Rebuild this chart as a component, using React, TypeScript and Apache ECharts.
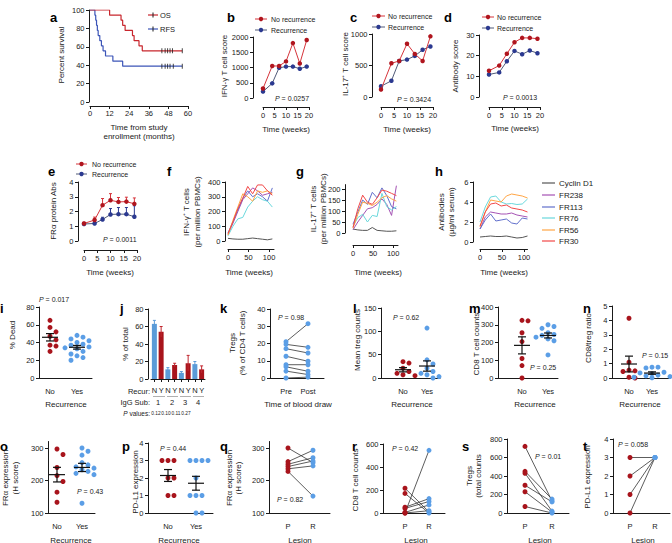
import React, { useEffect, useRef } from "react";
import * as echarts from "echarts";

const FONT = "'Liberation Sans', Arial, Helvetica, sans-serif";
const INK = "#1a1a1a";
const RED = "#a8141c";
const LBLUE = "#5b9ee6";
const OS_RED = "#c8262d";
const RFS_BLUE = "#3c55b8";
const NO_DOT = "#b0151e";
const NO_LINE = "#d6343b";
const REC_DOT = "#2b3990";
const REC_LINE = "#505a78";
const ABCOL = ["#555555", "#a553b4", "#6270cc", "#6ad8dc", "#ffa545", "#f24848"];
const ABNAMES = ["Cyclin D1", "FR238", "FR113", "FR76", "FR56", "FR30"];

// ---------- a: Kaplan-Meier ----------
const osTime = [0, 12, 19, 20, 21.5, 26, 27, 30, 32, 56.5];
const osSurv = [100, 94.4, 88.9, 83.3, 77.8, 72.2, 66.7, 61.1, 55.6, 55.6];
const osCensor = [44, 46, 47.5, 49, 50.5, 56.5];
const rfsTime = [0, 3, 3.5, 4, 4.5, 5, 6, 7, 8, 9.5, 14, 20, 56.5];
const rfsSurv = [100, 94.4, 88.9, 83.3, 77.8, 72.2, 66.7, 61.1, 55.6, 50, 44.4, 38.9, 38.9];
const rfsCensor = [44, 46, 47.5, 49, 51, 56.5];

// ---------- b-e: weekly scores ----------
const weeks = [0, 4, 7, 10, 13, 16, 19];
const ifnNo = [310, 1050, 1050, 1200, 1800, 1130, 1900];
const ifnRec = [210, 480, 990, 1030, 1030, 960, 1030];
const il17No = [118, 535, 572, 845, 684, 572, 963];
const il17Rec = [171, 257, 572, 594, 652, 749, 802];
const abNo = [12.7, 15.2, 20.9, 26.5, 28.6, 28.6, 28.2];
const abRec = [10.9, 11.9, 17.3, 22.3, 20.7, 22.5, 21.2];
const fraNo = [1.19, 1.42, 2.43, 2.76, 2.65, 2.67, 2.52];
const fraNoErr = [0.08, 0.2, 0.45, 0.45, 0.3, 0.3, 0.4];
const fraRec = [1.15, 1.19, 1.46, 1.8, 1.82, 1.82, 1.64];
const fraRecErr = [0.08, 0.1, 0.15, 0.4, 0.45, 0.45, 0.75];

// ---------- f-h: per-peptide curves (Cyclin D1, FR238, FR113, FR76, FR56, FR30) ----------
const tWeeks = [0, 12, 24, 36, 48, 60, 72, 84, 96, 108];
const ifnCells = [
  [18, 14, 12, 12, 16, 20, 16, 12, 8, 14],
  [45, 120, 200, 280, 320, 360, 340, 310, 320, 330],
  [55, 130, 210, 290, 340, 300, 320, 300, 270, 360],
  [35, 100, 150, 160, 230, 270, 300, 280, 270, 230],
  [40, 140, 230, 320, 300, 270, 340, 330, 340, 320],
  [50, 130, 220, 290, 370, 320, 380, 380, 340, 310],
];
const il17Cells = [
  [18, 14, 12, 12, 25, 12, 10, 8, 8, 10],
  [15, 50, 80, 110, 115, 130, 155, 130, 80, 215],
  [40, 95, 150, 130, 185, 160, 205, 170, 120, 110],
  [30, 70, 85, 50, 80, 75, 180, 120, 105, 120],
  [22, 85, 140, 135, 125, 140, 160, 170, 155, 145],
  [25, 110, 172, 140, 130, 160, 195, 190, 180, 170],
];
const antibodies = [
  [0.5, 0.55, 0.6, 0.55, 0.55, 0.6, 0.5, 0.4, 0.45, 0.6],
  [1.3, 2.5, 3.0, 2.9, 2.8, 2.8, 2.9, 2.7, 2.6, 2.5],
  [1.3, 2.2, 2.8, 2.1, 2.2, 2.3, 1.9, 1.8, 2.4, 2.3],
  [2.0, 3.5, 4.5, 4.6, 4.0, 3.8, 3.85, 3.75, 3.8, 4.3],
  [1.5, 3.0, 4.2, 4.1, 4.0, 4.6, 4.8, 4.7, 4.6, 4.4],
  [1.6, 3.0, 3.8, 3.9, 3.6, 3.7, 3.4, 3.3, 3.2, 3.0],
];

// ---------- i-t ----------
const iNo = [65, 57, 52, 47, 43, 37, 36, 30];
const iYes = [48, 46, 44, 42, 40, 38, 37, 35, 34, 33, 32, 30, 27, 25, 23, 20];
const jCats = ["N", "Y", "N", "Y", "N", "Y", "N", "Y"];
const jSub = ["1", "2", "3", "4"];
const jPvals = ["0.12", "0.10", "0.11", "0.27"];
const jNo = [63, 11, 7, 17];
const jNoErr = [4, 2, 1.5, 3];
const jYes = [54, 16, 18, 11];
const jYesErr = [6, 2, 9, 4];
const kPre = [21, 19.5, 17, 12.6, 7.7, 6.5, 4, 0];
const kPost = [31.5, 17.8, 14.5, 9.7, 7.7, 3.9, 2, 0.5];
const lNo = [35, 32, 21, 14, 10, 7, 5];
const lYes = [107, 39, 30, 21, 14, 10, 7, 3, 0];
const mNo = [325, 322, 255, 205, 110, 70, 0];
const mYes = [300, 290, 280, 255, 245, 240, 235, 230, 220, 210, 130];
const nNo = [4.15, 1.1, 0.55, 0.5, 0.45, 0.05, 0];
const nYes = [0.75, 0.75, 0.7, 0.4, 0.35, 0.3, 0.2, 0.15, 0.1, 0.05, 0.02];
const oNo = [297, 280, 240, 215, 197, 164, 133];
const oYes = [300, 290, 278, 255, 248, 242, 238, 233, 228, 222, 218, 130];
const pNo = [3, 3, 3, 2, 2, 1, 1];
const pYes = [3, 3, 3, 3, 2, 1, 1, 1, 0, 0];
const qP = [300, 258, 250, 243, 236, 228];
const qR = [255, 293, 270, 260, 245, 152];
const rP = [215, 170, 50, 40, 5, 0, 0];
const rR = [10, 0, 125, 100, 70, 545, 20];
const sP = [720, 450, 430, 300, 230, 70];
const sR = [130, 150, 20, 120, 10, 0];
const tP = [3, 2, 1, 0];
const tR = [3, 3, 3, 3];

function buildOption() {
  const grid: any[] = [];
  const xAxis: any[] = [];
  const yAxis: any[] = [];
  const series: any[] = [];
  const g: any[] = [];

  const T = (x: number, y: number, text: string, o: any = {}) => {
    const style: any = {
      text,
      fill: o.color ?? INK,
      fontFamily: FONT,
      fontSize: o.size ?? 8,
      fontWeight: o.bold ? "bold" : "normal",
      fontStyle: o.italic ? "italic" : "normal",
      align: o.align ?? "center",
      verticalAlign: o.va ?? "middle",
    };
    if (o.rich) style.rich = o.rich;
    g.push({ type: "text", x, y, rotation: o.rot ?? 0, silent: true, z: 100, style });
  };

  const lab = (m: number) => ({ show: true, fontSize: 7.5, color: INK, fontFamily: FONT, margin: m });
  const panel = (c: any) => {
    const i = grid.length;
    grid.push({ left: c.l, top: c.t, width: c.w, height: c.h });
    const xa: any = {
      gridIndex: i,
      position: "bottom",
      type: c.xData ? "category" : "value",
      offset: c.xOff ?? 0,
      axisLine: { show: true, onZero: false, lineStyle: { color: INK, width: 1 } },
      axisTick: { show: c.xTick !== false, length: 3, alignWithLabel: true, lineStyle: { color: INK, width: 1 } },
      axisLabel: lab(c.xMargin ?? 3),
      splitLine: { show: false },
    };
    if (c.xData) {
      xa.data = c.xData;
      xa.axisLabel.interval = 0;
      xa.axisTick.interval = 0;
    } else {
      xa.min = c.xmin;
      xa.max = c.xmax;
    }
    if (c.xint) xa.interval = c.xint;
    if (c.xCustom) {
      xa.axisLabel.customValues = c.xCustom;
      xa.axisTick.customValues = c.xCustom;
    }
    if (c.xLabels) {
      const cv = c.xCustom;
      xa.axisLabel.formatter = (v: number) => {
        const k = cv.findIndex((u: number) => Math.abs(u - v) < 1e-6);
        return k >= 0 ? c.xLabels[k] : "";
      };
    }
    xAxis.push(xa);
    const ya: any = {
      gridIndex: i,
      position: "left",
      type: "value",
      min: c.ymin,
      max: c.ymax,
      offset: c.yOff ?? 0,
      axisLine: { show: true, onZero: false, lineStyle: { color: INK, width: 1 } },
      axisTick: { show: true, length: 3, lineStyle: { color: INK, width: 1 } },
      axisLabel: { show: false },
      splitLine: { show: false },
    };
    let yTicks: number[] = [];
    if (c.yint) {
      ya.interval = c.yint;
      for (let v = c.ymin; v <= c.ymax + 1e-9; v += c.yint) yTicks.push(Math.round(v * 1000) / 1000);
    }
    if (c.yCustom) {
      ya.axisTick.customValues = c.yCustom;
      yTicks = c.yCustom;
    }
    yAxis.push(ya);
    // y tick labels placed at the axis' own tick positions
    const ax = c.l - (c.yOff ?? 0) - 4.5;
    yTicks.forEach((v) => {
      const py = c.t + c.h * (1 - (v - c.ymin) / (c.ymax - c.ymin));
      T(ax, py, String(v), { size: 7.5, align: "right" });
    });
    return { ...c, i };
  };

  const PV = (x: number, y: number, v: string, size = 7) =>
    T(x, y, `{i|P} = ${v}`, {
      size,
      align: "left",
      rich: { i: { fontStyle: "italic", fontSize: size, fontFamily: FONT, fill: INK } },
    });
  const YT = (x: number, y: number, s: string) => T(x, y, s, { rot: Math.PI / 2, size: 8 });
  const LN = (x1: number, y1: number, x2: number, y2: number, stroke: string, w = 1) =>
    g.push({ type: "line", silent: true, z: 100, shape: { x1, y1, x2, y2 }, style: { stroke, lineWidth: w } });

  const line = (p: any, xs: number[], ys: number[], dot: string, lc: string, z = 3) =>
    series.push({
      type: "line",
      xAxisIndex: p.i,
      yAxisIndex: p.i,
      data: xs.map((t, k) => [t, ys[k]]),
      symbol: "circle",
      symbolSize: 4.5,
      itemStyle: { color: dot },
      lineStyle: { color: lc, width: 1 },
      z,
      silent: true,
    });

  const upErr = (p: any, xs: number[], ys: number[], err: number[], color: string) =>
    series.push({
      type: "custom",
      xAxisIndex: p.i,
      yAxisIndex: p.i,
      silent: true,
      z: 2,
      data: xs.map((t, k) => [t, ys[k], ys[k] + err[k]]),
      renderItem: (_: any, api: any) => {
        const a = api.coord([api.value(0), api.value(1)]);
        const b = api.coord([api.value(0), api.value(2)]);
        return {
          type: "group",
          children: [
            { type: "line", shape: { x1: a[0], y1: a[1], x2: b[0], y2: b[1] }, style: { stroke: color, lineWidth: 1 } },
            { type: "line", shape: { x1: b[0] - 1.5, y1: b[1], x2: b[0] + 1.5, y2: b[1] }, style: { stroke: color, lineWidth: 1 } },
          ],
        };
      },
    });

  const swarm = (vals: number[], cx: number, p: any, d = 6) => {
    const placed: number[][] = [];
    return vals.map((v) => {
      const py = ((v - p.ymin) / (p.ymax - p.ymin)) * p.h;
      const offs = [0, d, -d, 2 * d, -2 * d, 3 * d, -3 * d];
      let ox = 0;
      for (const o of offs) {
        if (placed.every(([x, y]) => Math.hypot(x - o, y - py) >= d * 0.98)) {
          ox = o;
          break;
        }
      }
      placed.push([ox, py]);
      return [cx + ox, v];
    });
  };

  const dots = (p: any, data: number[][], color: string) =>
    series.push({
      type: "scatter",
      xAxisIndex: p.i,
      yAxisIndex: p.i,
      data,
      symbolSize: 5,
      itemStyle: { color, opacity: 1 },
      silent: true,
      z: 3,
    });

  const meanSem = (p: any, cx: number, vals: number[], half = 8) => {
    const n = vals.length;
    const m = vals.reduce((a, b) => a + b, 0) / n;
    const sd = Math.sqrt(vals.reduce((a, b) => a + (b - m) * (b - m), 0) / (n - 1));
    const se = sd / Math.sqrt(n);
    series.push({
      type: "custom",
      xAxisIndex: p.i,
      yAxisIndex: p.i,
      silent: true,
      z: 5,
      data: [[cx, m, m - se, m + se]],
      renderItem: (_: any, api: any) => {
        const c = api.coord([api.value(0), api.value(1)]);
        const lo = api.coord([api.value(0), api.value(2)]);
        const hi = api.coord([api.value(0), api.value(3)]);
        const st = { stroke: "#111", lineWidth: 1.2 };
        return {
          type: "group",
          children: [
            { type: "line", shape: { x1: c[0] - half, y1: c[1], x2: c[0] + half, y2: c[1] }, style: st },
            { type: "line", shape: { x1: c[0], y1: lo[1], x2: c[0], y2: hi[1] }, style: st },
            { type: "line", shape: { x1: c[0] - 4, y1: lo[1], x2: c[0] + 4, y2: lo[1] }, style: st },
            { type: "line", shape: { x1: c[0] - 4, y1: hi[1], x2: c[0] + 4, y2: hi[1] }, style: st },
          ],
        };
      },
    });
  };

  const dotPanel = (p: any, a: number[], b: number[]) => {
    const [c1, c2] = p.xCustom;
    dots(p, swarm(a, c1, p), RED);
    dots(p, swarm(b, c2, p), LBLUE);
    meanSem(p, c1, a);
    meanSem(p, c2, b);
  };

  const pairPanel = (p: any, a: number[], b: number[], ca: string, cb: string) => {
    const [c1, c2] = p.xCustom;
    series.push({
      type: "custom",
      xAxisIndex: p.i,
      yAxisIndex: p.i,
      silent: true,
      z: 2,
      data: a.map((v, k) => [v, b[k]]),
      renderItem: (_: any, api: any) => {
        const s = api.coord([c1, api.value(0)]);
        const e = api.coord([c2, api.value(1)]);
        return { type: "line", shape: { x1: s[0], y1: s[1], x2: e[0], y2: e[1] }, style: { stroke: "#333", lineWidth: 0.8 } };
      },
    });
    dots(p, a.map((v) => [c1, v]), ca);
    dots(p, b.map((v) => [c2, v]), cb);
  };

  // ================= Row 1 =================
  const A = panel({ l: 90, t: 10, w: 98, h: 92, xmin: 0, xmax: 60, xint: 12, xOff: 4, xMargin: 3, ymin: 0, ymax: 100, yint: 20, yOff: 1 });
  series.push({ type: "line", xAxisIndex: A.i, yAxisIndex: A.i, step: "end", symbol: "none", silent: true, z: 3,
    data: rfsTime.map((t, k) => [t, rfsSurv[k]]), lineStyle: { color: RFS_BLUE, width: 1.2 } });
  series.push({ type: "line", xAxisIndex: A.i, yAxisIndex: A.i, step: "end", symbol: "none", silent: true, z: 4,
    data: osTime.map((t, k) => [t, osSurv[k]]), lineStyle: { color: OS_RED, width: 1.2 } });
  series.push({ type: "scatter", xAxisIndex: A.i, yAxisIndex: A.i, symbol: "rect", symbolSize: [1, 5], silent: true, z: 5,
    data: osCensor.map((t) => [t, osSurv[osSurv.length - 1]]), itemStyle: { color: INK } });
  series.push({ type: "scatter", xAxisIndex: A.i, yAxisIndex: A.i, symbol: "rect", symbolSize: [1, 5], silent: true, z: 5,
    data: rfsCensor.map((t) => [t, rfsSurv[rfsSurv.length - 1]]), itemStyle: { color: INK } });

  const B = panel({ l: 263, t: 37, w: 46, h: 61, xmin: 0, xmax: 20, xint: 5, xOff: 9, xMargin: 4, ymin: 0, ymax: 2000, yint: 500, yOff: 10 });
  line(B, weeks, ifnRec, REC_DOT, REC_LINE, 3);
  line(B, weeks, ifnNo, NO_DOT, NO_LINE, 4);
  const C = panel({ l: 381, t: 34, w: 52, h: 63, xmin: 0, xmax: 20, xint: 5, xOff: 10, xMargin: 4, ymin: 0, ymax: 1000, yint: 500, yOff: 9 });
  line(C, weeks, il17Rec, REC_DOT, REC_LINE, 3);
  line(C, weeks, il17No, NO_DOT, NO_LINE, 4);
  const D = panel({ l: 489, t: 35, w: 51, h: 62, xmin: 0, xmax: 20, xint: 5, xOff: 10, xMargin: 4, ymin: 0, ymax: 30, yint: 10, yOff: 10 });
  line(D, weeks, abRec, REC_DOT, REC_LINE, 3);
  line(D, weeks, abNo, NO_DOT, NO_LINE, 4);

  // ================= Row 2 =================
  const E = panel({ l: 84, t: 182, w: 53, h: 59, xmin: 0, xmax: 20, xint: 5, xOff: 9, xMargin: 4, ymin: 0, ymax: 4, yint: 1, yOff: 6 });
  upErr(E, weeks, fraRec, fraRecErr, REC_DOT);
  upErr(E, weeks, fraNo, fraNoErr, NO_LINE);
  line(E, weeks, fraRec, REC_DOT, REC_LINE, 3);
  line(E, weeks, fraNo, NO_DOT, NO_LINE, 4);

  const multi = (p: any, sets: number[][]) =>
    sets.forEach((ys, k) =>
      series.push({
        type: "line", xAxisIndex: p.i, yAxisIndex: p.i, symbol: "none", silent: true, z: 3,
        data: tWeeks.map((t, j) => [t, ys[j]]), lineStyle: { color: ABCOL[k], width: 1 },
      })
    );
  const F = panel({ l: 228, t: 182, w: 46, h: 59, xmin: 0, xmax: 112, xCustom: [0, 50, 100], xOff: 8, xMargin: 4, ymin: 0, ymax: 400, yint: 100, yOff: 3 });
  multi(F, ifnCells);
  const Gp = panel({ l: 353, t: 184.6, w: 45, h: 48.4, xmin: 0, xmax: 112, xCustom: [0, 50, 100], xOff: 12, xMargin: 4, ymin: 0, ymax: 220, yCustom: [0, 50, 100, 150, 200], yOff: 8 });
  multi(Gp, il17Cells);
  const H = panel({ l: 480, t: 182, w: 47.5, h: 60, xmin: 0, xmax: 108, xCustom: [0, 50, 100], xOff: 7, xMargin: 4, ymin: 0, ymax: 6, yint: 2, yOff: 7 });
  multi(H, antibodies);

  // ================= Row 3 =================
  const NY = ["No", "Yes"];
  const I = panel({ l: 39, t: 307, w: 53, h: 71, xmin: 0, xmax: 53, xCustom: [11, 38], xLabels: NY, xTick: false, xMargin: 9, ymin: 0, ymax: 80, yint: 20 });
  dotPanel(I, iNo, iYes);

  const J = panel({ l: 151, t: 309, w: 54, h: 70, xData: jCats, xMargin: 7, ymin: 0, ymax: 80, yint: 20, yOff: 3 });
  const jVals: number[] = [];
  const jErrs: number[] = [];
  jNo.forEach((v, k) => { jVals.push(v, jYes[k]); jErrs.push(jNoErr[k], jYesErr[k]); });
  series.push({
    type: "bar", xAxisIndex: J.i, yAxisIndex: J.i, silent: true, barWidth: 5, z: 2,
    data: jVals.map((v, k) => ({ value: v, itemStyle: { color: k % 2 === 0 ? "#5b9bd8" : RED } })),
  });
  series.push({
    type: "custom", xAxisIndex: J.i, yAxisIndex: J.i, silent: true, z: 3,
    data: jVals.map((v, k) => [k, v - jErrs[k], v + jErrs[k]]),
    renderItem: (_: any, api: any) => {
      const k = api.value(0);
      const col = k % 2 === 0 ? "#5b9bd8" : "#c0262e";
      const lo = api.coord([k, api.value(1)]);
      const hi = api.coord([k, api.value(2)]);
      return {
        type: "group",
        children: [
          { type: "line", shape: { x1: lo[0], y1: lo[1], x2: hi[0], y2: hi[1] }, style: { stroke: col, lineWidth: 1 } },
          { type: "line", shape: { x1: hi[0] - 1.5, y1: hi[1], x2: hi[0] + 1.5, y2: hi[1] }, style: { stroke: col, lineWidth: 1 } },
        ],
      };
    },
  });

  const K = panel({ l: 270, t: 309, w: 54, h: 69, xmin: 0, xmax: 54, xCustom: [16, 38], xLabels: ["Pre", "Post"], xTick: false, xMargin: 9, ymin: 0, ymax: 40, yint: 10 });
  pairPanel(K, kPre, kPost, LBLUE, LBLUE);
  const L = panel({ l: 381, t: 308, w: 59, h: 70, xmin: 0, xmax: 59, xCustom: [22, 46], xLabels: NY, xTick: false, xMargin: 9, ymin: 0, ymax: 150, yint: 50 });
  dotPanel(L, lNo, lYes);
  const M = panel({ l: 498, t: 307, w: 60, h: 71, xmin: 0, xmax: 60, xCustom: [24, 50], xLabels: NY, xTick: false, xMargin: 9, ymin: 0, ymax: 400, yint: 100 });
  dotPanel(M, mNo, mYes);
  const N = panel({ l: 612, t: 306, w: 58, h: 72, xmin: 0, xmax: 58, xCustom: [17, 40], xLabels: NY, xTick: false, xMargin: 9, ymin: 0, ymax: 5, yint: 1 });
  dotPanel(N, nNo, nYes);

  // ================= Row 4 =================
  const O = panel({ l: 48, t: 441.5, w: 47, h: 71.5, xmin: 0, xmax: 47, xCustom: [9, 34], xLabels: NY, xTick: false, xMargin: 9, ymin: 100, ymax: 320, yCustom: [100, 200, 300] });
  dotPanel(O, oNo, oYes);
  const P = panel({ l: 148, t: 443, w: 65, h: 70, xmin: 0, xmax: 65, xCustom: [20, 48], xLabels: NY, xTick: false, xMargin: 9, ymin: 0, ymax: 4, yint: 1 });
  dotPanel(P, pNo, pYes);
  const PR = ["P", "R"];
  const Q = panel({ l: 269, t: 441.5, w: 61, h: 71.5, xmin: 0, xmax: 61, xCustom: [19, 44], xLabels: PR, xTick: false, xMargin: 9, ymin: 100, ymax: 320, yCustom: [100, 200, 300] });
  pairPanel(Q, qP, qR, RED, LBLUE);
  const R = panel({ l: 383, t: 444, w: 62, h: 69, xmin: 0, xmax: 62, xCustom: [22, 46], xLabels: PR, xTick: false, xMargin: 9, ymin: 0, ymax: 600, yint: 200 });
  pairPanel(R, rP, rR, RED, LBLUE);
  const S = panel({ l: 507, t: 439, w: 62, h: 74, xmin: 0, xmax: 62, xCustom: [18, 45], xLabels: PR, xTick: false, xMargin: 9, ymin: 0, ymax: 800, yint: 200 });
  pairPanel(S, sP, sR, RED, LBLUE);
  const Tt = panel({ l: 613, t: 439, w: 57, h: 74, xmin: 0, xmax: 57, xCustom: [17, 42], xLabels: PR, xTick: false, xMargin: 9, ymin: 0, ymax: 4, yint: 1 });
  pairPanel(Tt, tP, tR, RED, LBLUE);

  // ================= Texts =================
  const letters: [string, number, number][] = [
    ["a", 50, 11], ["b", 227, 11], ["c", 350, 11], ["d", 444, 11],
    ["e", 48, 165], ["f", 167, 165], ["g", 296, 165], ["h", 435, 165],
    ["i", 0, 302], ["j", 120, 302], ["k", 220, 302], ["l", 353, 302], ["m", 469, 302], ["n", 583, 302],
    ["o", 0, 440], ["p", 122, 440], ["q", 220, 440], ["r", 352, 440], ["s", 462, 440], ["t", 583, 440],
  ];
  letters.forEach(([s, x, y]) => T(x, y, s, { size: 13, bold: true, align: "left", va: "alphabetic", color: "#000" }));

  // y titles
  YT(61, 55, "Percent survival");
  YT(224, 66, "IFN-γ T cell score");
  YT(345, 64, "IL-17⁺ T cell score");
  YT(455, 66, "Antibody score");
  YT(53, 211, "FRα protein Abs");
  YT(186, 212, "IFN-γ⁺ T cells");
  YT(197, 212, "(per million PBMCs)");
  YT(313, 209, "IL-17⁺ T cells");
  YT(323, 209, "(per million PBMCs)");
  YT(441, 212, "Antibodies");
  YT(451, 212, "(µg/ml serum)");
  YT(12, 335, "% Dead");
  YT(125, 344, "% of total");
  YT(232, 343, "Tregs");
  YT(242, 343, "(% of CD4 T cells)");
  YT(357, 340, "Mean treg counts");
  YT(476, 344, "CD8 T cell counts");
  YT(588, 338, "CD8/treg ratio");
  YT(5, 478, "FRα expression");
  YT(15, 478, "(H score)");
  YT(135, 482, "PD-L1 expression");
  YT(229, 478, "FRα expression");
  YT(238, 478, "(H score)");
  YT(355, 480, "CD8 T cell counts");
  YT(469, 476, "Tregs");
  YT(478, 476, "(total counts");
  YT(587, 477, "PD-L1 expression");

  // x titles
  T(139, 127, "Time from study");
  T(139, 136, "enrollment (months)");
  T(286, 129, "Time (weeks)");
  T(407, 129, "Time (weeks)");
  T(515, 128, "Time (weeks)");
  T(110, 272, "Time (weeks)");
  T(249, 272, "Time (weeks)");
  T(378, 272, "Time (weeks)");
  T(504, 272, "Time (weeks)");
  T(66, 404, "Recurrence");
  T(298, 404, "Time of blood draw");
  T(412, 404, "Recurrence");
  T(535, 404, "Recurrence");
  T(640, 404, "Recurrence");
  T(71, 540, "Recurrence");
  T(179, 540, "Recurrence");
  T(300, 540, "Lesion");
  T(416, 540, "Lesion");
  T(540, 540, "Lesion");
  T(643, 540, "Lesion");

  // P values
  PV(275, 98, "0.0257");
  PV(397, 99, "0.3424");
  PV(503, 97, "0.0013");
  PV(103, 239, "0.0011");
  PV(39, 299, "0.017");
  PV(278, 317, "0.98");
  PV(393, 317, "0.62");
  PV(530, 367, "0.25");
  PV(642, 355, "0.15");
  PV(77, 491, "0.43");
  PV(160, 448, "0.44");
  PV(277, 499, "0.82");
  PV(392, 448, "0.42");
  PV(535, 456, "0.01");
  PV(618, 444, "0.058");

  // legend a
  LN(148, 15, 158, 15, OS_RED, 1.2);
  LN(153, 12.5, 153, 17.5, INK, 1);
  T(160, 15, "OS", { size: 7.5, align: "left" });
  LN(148, 29, 158, 29, RFS_BLUE, 1.2);
  LN(153, 26.5, 153, 31.5, INK, 1);
  T(160, 29, "RFS", { size: 7.5, align: "left" });

  // legends b-e
  const leg2 = (x1: number, x2: number, tx: number, y1: number, y2: number) => {
    LN(x1, y1, x2, y1, NO_LINE);
    g.push({ type: "circle", silent: true, z: 101, shape: { cx: (x1 + x2) / 2, cy: y1, r: 2.2 }, style: { fill: NO_DOT } });
    T(tx, y1, "No recurrence", { size: 7, align: "left" });
    LN(x1, y2, x2, y2, REC_LINE);
    g.push({ type: "circle", silent: true, z: 101, shape: { cx: (x1 + x2) / 2, cy: y2, r: 2.2 }, style: { fill: REC_DOT } });
    T(tx, y2, "Recurrence", { size: 7, align: "left" });
  };
  leg2(255, 267, 271, 19, 30);
  leg2(372, 385, 388, 16, 27);
  leg2(482, 494, 497, 17, 28);
  leg2(76, 87, 92, 164, 174);

  // legend h
  const hy = [183, 195, 207, 218, 230, 241];
  ABNAMES.forEach((nm, k) => {
    LN(542, hy[k], 555, hy[k], ABCOL[k], 1.2);
    T(559, hy[k], nm, { size: 8, align: "left" });
  });

  // j annotations
  T(150, 391, "Recur:", { size: 7.5, align: "right" });
  T(150, 402, "IgG Sub:", { size: 7.5, align: "right" });
  const subX = [158, 172, 185, 198];
  jSub.forEach((s, k) => T(subX[k], 402, s, { size: 7.5 }));
  [[153, 165], [167, 178], [180, 191], [193, 204]].forEach(([a, b]) => LN(a, 396.5, b, 396.5, "#b0b0b0", 1));
  T(150, 413, "{i|P} values:", { size: 6.5, align: "right", rich: { i: { fontStyle: "italic", fontSize: 6.5, fontFamily: FONT, fill: INK } } });
  const pvX = [156, 166, 176, 186];
  jPvals.forEach((s, k) => T(pvX[k], 413.5, s, { size: 4.8 }));

  return {
    animation: false,
    backgroundColor: "#ffffff",
    textStyle: { fontFamily: FONT },
    grid,
    xAxis,
    yAxis,
    series,
    graphic: g,
  };
}

export default function App() {
  const ref = useRef<HTMLDivElement>(null);
  useEffect(() => {
    const chart = echarts.init(ref.current!, null, { renderer: "svg", width: 672, height: 543 });
    chart.setOption(buildOption() as any);
    return () => chart.dispose();
  }, []);
  return (
    <div
      ref={ref}
      style={{ position: "fixed", left: 0, top: 0, width: 672, height: 543, background: "#fff" }}
    />
  );
}
